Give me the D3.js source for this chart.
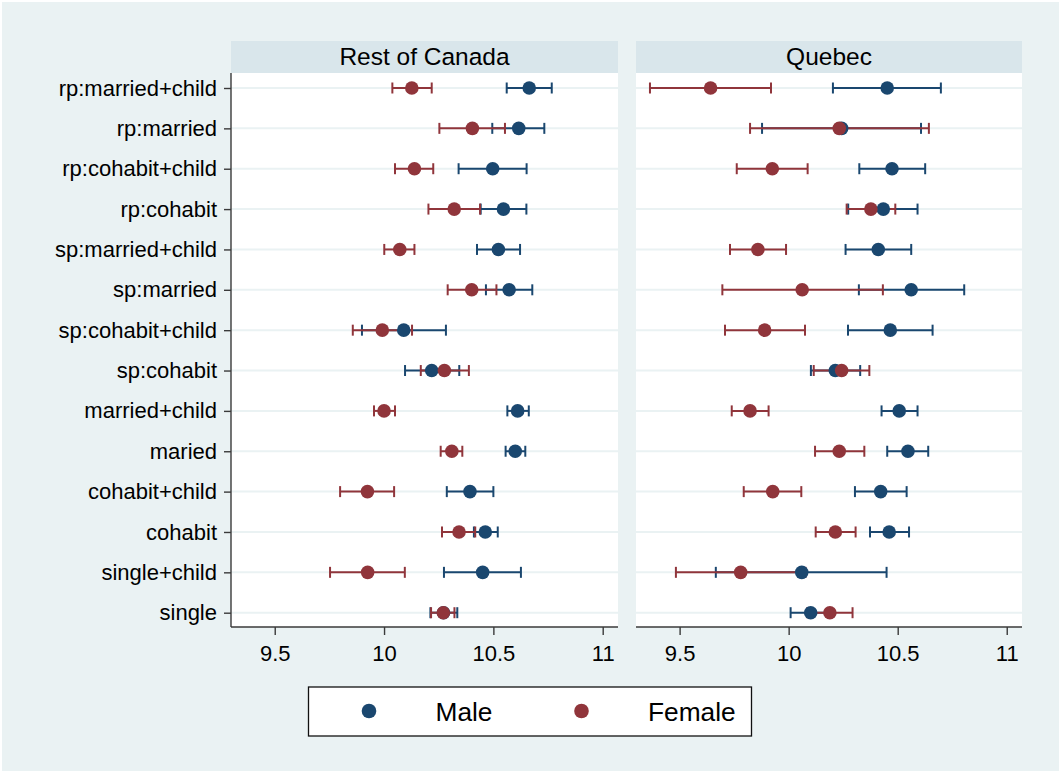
<!DOCTYPE html>
<html>
<head>
<meta charset="utf-8">
<script src="https://cdn.jsdelivr.net/npm/d3@7"></script>
<style>
  html, body { margin: 0; padding: 0; background: #ffffff; }
  svg { display: block; font-family: "Liberation Sans", Arial, sans-serif; }
</style>
</head>
<body>
<svg id="chart" width="1059" height="771"></svg>
<script>
// Household categories, top to bottom
const categories = [
  "rp:married+child", "rp:married", "rp:cohabit+child", "rp:cohabit",
  "sp:married+child", "sp:married", "sp:cohabit+child", "sp:cohabit",
  "married+child", "maried", "cohabit+child", "cohabit",
  "single+child", "single"
];
const panels = ["Rest of Canada", "Quebec"];
const xTicks = [9.5, 10, 10.5, 11];
const seriesNames = ["Male", "Female"];

// Rest of Canada: point estimates and 95% CI bounds
const rocMale      = [10.664, 10.616, 10.497, 10.546, 10.523, 10.572, 10.090, 10.218, 10.611, 10.600, 10.393, 10.463, 10.451, 10.272];
const rocMaleLo    = [10.561, 10.495, 10.341, 10.442, 10.425, 10.466,  9.899, 10.096, 10.564, 10.556, 10.287, 10.411, 10.274, 10.212];
const rocMaleHi    = [10.767, 10.733, 10.652, 10.651, 10.622, 10.678, 10.283, 10.344, 10.662, 10.646, 10.500, 10.520, 10.626, 10.335];
const rocFemale    = [10.127, 10.404, 10.139, 10.321, 10.072, 10.401,  9.992, 10.276, 10.000, 10.310,  9.924, 10.343,  9.925, 10.271];
const rocFemaleLo  = [10.038, 10.253, 10.050, 10.203, 10.001, 10.291,  9.857, 10.168,  9.954, 10.259,  9.799, 10.265,  9.753, 10.215];
const rocFemaleHi  = [10.218, 10.553, 10.225, 10.439, 10.139, 10.514, 10.128, 10.388, 10.050, 10.358, 10.046, 10.417, 10.095, 10.322];

// Quebec: point estimates and 95% CI bounds
const qcMale       = [10.452, 10.243, 10.474, 10.434, 10.411, 10.562, 10.466, 10.214, 10.507, 10.547, 10.422, 10.461, 10.060, 10.101];
const qcMaleLo     = [10.203,  9.878, 10.324, 10.273, 10.261, 10.322, 10.272, 10.102, 10.426, 10.452, 10.304, 10.373,  9.666, 10.009];
const qcMaleHi     = [10.698, 10.607, 10.626, 10.591, 10.562, 10.805, 10.660, 10.328, 10.591, 10.640, 10.541, 10.552, 10.449, 10.192];
const qcFemale     = [ 9.642, 10.232,  9.925, 10.377,  9.859, 10.062,  9.890, 10.243,  9.823, 10.232,  9.927, 10.214,  9.780, 10.189];
const qcFemaleLo   = [ 9.364,  9.823,  9.762, 10.266,  9.731,  9.696,  9.708, 10.115,  9.739, 10.121,  9.794, 10.124,  9.483, 10.085];
const qcFemaleHi   = [ 9.919, 10.643, 10.087, 10.489,  9.988, 10.432, 10.075, 10.370,  9.908, 10.347, 10.058, 10.307, 10.077, 10.293];

const C = {
  bg: "#EAF2F3", strip: "#D9E6EB", grid: "#EAF2F3",
  male: "#1A476F", female: "#90353B", axis: "#3a3a3a", text: "#000000"
};

const svg = d3.select("#chart");
svg.append("rect").attr("x", 2).attr("y", 2).attr("width", 1057).attr("height", 769).attr("fill", C.bg);

const plotTop = 73, plotBottom = 627, stripTop = 41;
const panelX = [[231, 618], [636, 1022]];
const xDomain = [9.3, 11.07];

const y = d3.scalePoint().domain(categories).range([88, 612.7]);

const panelData = [
  { male: rocMale, maleLo: rocMaleLo, maleHi: rocMaleHi, female: rocFemale, femaleLo: rocFemaleLo, femaleHi: rocFemaleHi },
  { male: qcMale, maleLo: qcMaleLo, maleHi: qcMaleHi, female: qcFemale, femaleLo: qcFemaleLo, femaleHi: qcFemaleHi }
];

const fontSize = 22, titleSize = 24.5;
const capHalf = 5.5, dotR = 6.8;

panels.forEach((name, p) => {
  const [x0, x1] = panelX[p];
  const x = d3.scaleLinear().domain(xDomain).range([x0, x1]);
  const g = svg.append("g");

  // strip with panel title
  g.append("rect").attr("x", x0).attr("y", stripTop).attr("width", x1 - x0).attr("height", plotTop - stripTop).attr("fill", C.strip);
  g.append("text").attr("x", (x0 + x1) / 2).attr("y", 65).attr("text-anchor", "middle")
    .attr("font-size", titleSize).attr("fill", C.text).text(name);

  // plot region
  g.append("rect").attr("x", x0).attr("y", plotTop).attr("width", x1 - x0).attr("height", plotBottom - plotTop).attr("fill", "#ffffff");

  // horizontal grid lines
  g.selectAll("line.grid").data(categories).join("line").attr("class", "grid")
    .attr("x1", x0).attr("x2", x1).attr("y1", d => y(d)).attr("y2", d => y(d))
    .attr("stroke", C.grid).attr("stroke-width", 2);

  // x axis
  const xAxis = d3.axisBottom(x).tickValues(xTicks).tickSize(8).tickPadding(10).tickFormat(d3.format("~g"));
  const ax = g.append("g").attr("transform", `translate(0,${plotBottom})`).call(xAxis);
  ax.select(".domain").attr("stroke", C.axis).attr("stroke-width", 1.4).attr("d", `M${x0},0H${x1}`);
  ax.selectAll(".tick line").attr("stroke", C.axis).attr("stroke-width", 1.4);
  ax.selectAll(".tick text").attr("font-size", fontSize).attr("font-family", "Liberation Sans, Arial, sans-serif")
    .attr("fill", C.text).attr("dy", "0.72em");

  // y axis (labels only on the first panel)
  if (p === 0) {
    const yAxis = d3.axisLeft(y).tickSize(7).tickPadding(7);
    const ay = g.append("g").attr("transform", `translate(${x0},0)`).call(yAxis);
    ay.select(".domain").attr("stroke", C.axis).attr("stroke-width", 1.4).attr("d", `M0,${plotTop}V${plotBottom}`);
    ay.selectAll(".tick line").attr("stroke", C.axis).attr("stroke-width", 1.4);
    ay.selectAll(".tick text").attr("font-size", fontSize).attr("font-family", "Liberation Sans, Arial, sans-serif")
      .attr("fill", C.text);
  }

  const d = panelData[p];
  const groups = [
    { v: d.male, lo: d.maleLo, hi: d.maleHi, color: C.male },
    { v: d.female, lo: d.femaleLo, hi: d.femaleHi, color: C.female }
  ];

  // confidence intervals with caps
  groups.forEach(s => {
    const cg = g.append("g").attr("stroke", s.color).attr("stroke-width", 2).attr("fill", "none");
    categories.forEach((c, i) => {
      const yy = y(c);
      cg.append("line").attr("x1", x(s.lo[i])).attr("x2", x(s.hi[i])).attr("y1", yy).attr("y2", yy);
      cg.append("line").attr("x1", x(s.lo[i])).attr("x2", x(s.lo[i])).attr("y1", yy - capHalf).attr("y2", yy + capHalf);
      cg.append("line").attr("x1", x(s.hi[i])).attr("x2", x(s.hi[i])).attr("y1", yy - capHalf).attr("y2", yy + capHalf);
    });
  });

  // point estimates
  groups.forEach(s => {
    g.append("g").selectAll("circle").data(categories).join("circle")
      .attr("cx", (c, i) => x(s.v[i])).attr("cy", c => y(c)).attr("r", dotR).attr("fill", s.color);
  });
});

// legend
const lg = svg.append("g");
lg.append("rect").attr("x", 308.5).attr("y", 687).attr("width", 443).attr("height", 49)
  .attr("fill", "#ffffff").attr("stroke", "#111").attr("stroke-width", 1.3);
const legendItems = [
  { name: seriesNames[0], color: C.male, dx: 369, tx: 435.5 },
  { name: seriesNames[1], color: C.female, dx: 581.5, tx: 648 }
];
legendItems.forEach(it => {
  lg.append("circle").attr("cx", it.dx).attr("cy", 711).attr("r", 7.3).attr("fill", it.color);
  lg.append("text").attr("x", it.tx).attr("y", 720.5).attr("font-size", 26.3).attr("fill", C.text).text(it.name);
});
</script>
</body>
</html>
